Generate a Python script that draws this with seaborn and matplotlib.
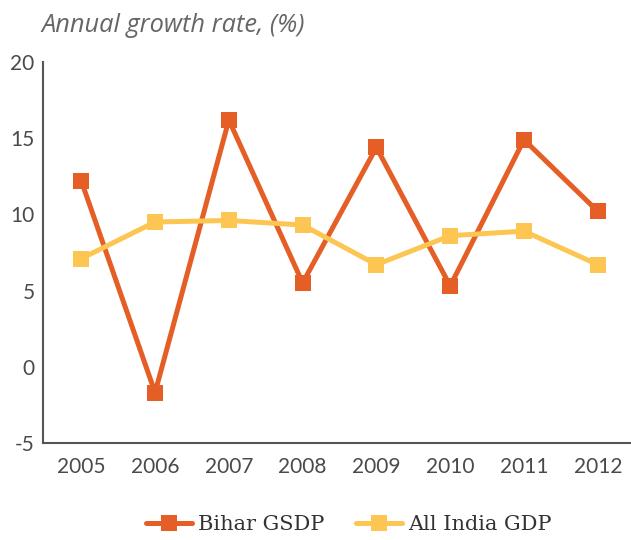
import pandas as pd
import seaborn as sns
import matplotlib.pyplot as plt

years = ["2005", "2006", "2007", "2008", "2009", "2010", "2011", "2012"]
bihar_gsdp = [12.2, -1.7, 16.2, 5.5, 14.4, 5.3, 14.9, 10.2]
india_gdp = [7.1, 9.5, 9.6, 9.3, 6.7, 8.6, 8.9, 6.7]
series_names = ["Bihar GSDP", "All India GDP"]
colori = ["#E45E26", "#FDC652"]

df = pd.DataFrame({
    "anno": years * 2,
    "crescita": bihar_gsdp + india_gdp,
    "serie": [series_names[0]] * len(years) + [series_names[1]] * len(years),
})

sns.set_style("white")
plt.rcParams['font.family'] = ['Lato', 'DejaVu Sans']
plt.rcParams['axes.unicode_minus'] = False

fig = plt.figure(figsize=(6.31, 5.4), dpi=100)
ax = fig.add_axes([0.068, 0.18, 0.932, 0.705])

sns.lineplot(data=df, x="anno", y="crescita", hue="serie", palette=colori,
             style="serie", markers=["s", "s"], dashes=False, sort=False,
             linewidth=3.6, markersize=11, markeredgewidth=0, ax=ax)

ax.set_ylim(-5, 20)
ax.set_xlim(-0.52, 7.45)
ax.set_yticks([-5, 0, 5, 10, 15, 20])
ax.set_xlabel("")
ax.set_ylabel("")
ax.tick_params(axis="both", length=0, labelsize=15, labelcolor="#4a4a4a")
ax.tick_params(axis="y", pad=6)
ax.tick_params(axis="x", pad=10)
sns.despine(ax=ax)
for s in ["left", "bottom"]:
    ax.spines[s].set_color("#555555")
    ax.spines[s].set_linewidth(1.5)

fig.text(0.066, 0.952, "Annual growth rate, (%)", fontsize=18.3, style="italic",
         color="#666666", family=["Open Sans", "DejaVu Sans"], va="center")

leg = ax.legend(loc="center", bbox_to_anchor=(0.52, -0.215), ncol=2, frameon=False,
                prop={"family": ["DejaVu Serif"], "size": 15},
                handlelength=2.2, columnspacing=1.5, handletextpad=0.3)
for t in leg.get_texts():
    t.set_color("#333333")

fig.savefig("out.png", dpi=100)
